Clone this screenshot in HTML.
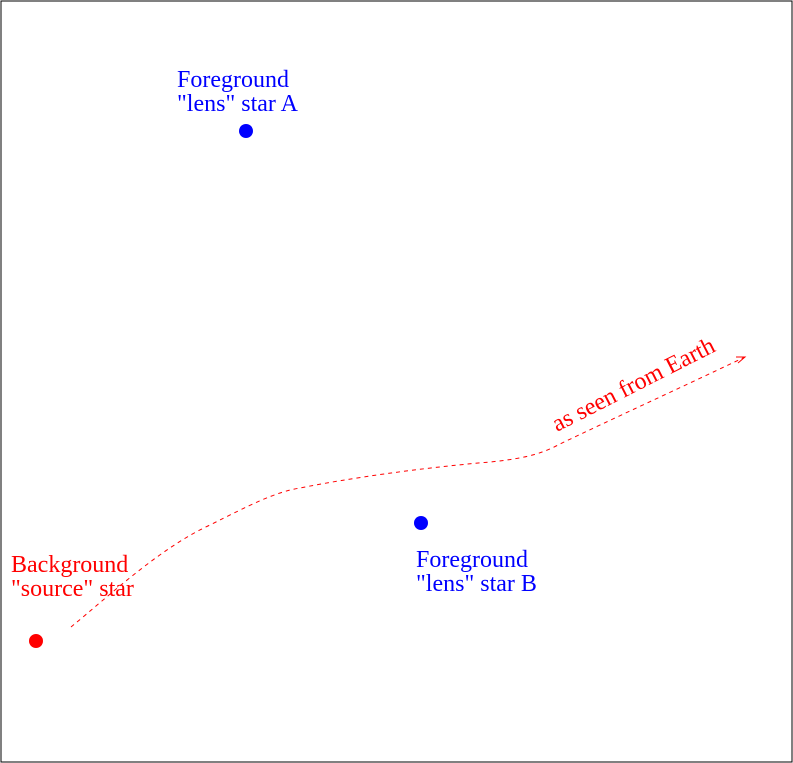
<!DOCTYPE html>
<html><head><meta charset="utf-8"><style>
html,body{margin:0;padding:0;background:#fff;}
svg{display:block;}
text{font-family:"Liberation Serif",serif;font-size:24px;}
</style></head><body>
<svg width="793" height="763" viewBox="0 0 793 763" xmlns="http://www.w3.org/2000/svg">
<rect x="1" y="1" width="791" height="761" fill="#fff" stroke="#000" stroke-width="1"/>
<text x="177" y="87" fill="#0000ff">Foreground</text>
<text x="177" y="111" fill="#0000ff">"lens" star A</text>
<circle cx="246" cy="131" r="7" fill="#0000ff"/>
<circle cx="421" cy="523" r="7" fill="#0000ff"/>
<text x="416" y="567" fill="#0000ff">Foreground</text>
<text x="416" y="591" fill="#0000ff">"lens" star B</text>
<text x="11" y="572" fill="#ff0000">Background</text>
<text x="11" y="596" fill="#ff0000">"source" star</text>
<circle cx="36" cy="641" r="7" fill="#ff0000"/>
<path d="M71,627 C110,595 160,548 210,525 C250,505 275,492 300,488 C350,478 420,468 490,462 C530,458 545,452 560,444 C610,420 680,388 745,357" fill="none" stroke="#ff0000" stroke-width="1" stroke-dasharray="4,4"/>
<path d="M736,357 L745,357 L738,363" fill="none" stroke="#ff0000" stroke-width="1"/>
<text x="557" y="432" fill="#ff0000" transform="rotate(-27 557 432)">as seen from Earth</text>
</svg>
</body></html>
